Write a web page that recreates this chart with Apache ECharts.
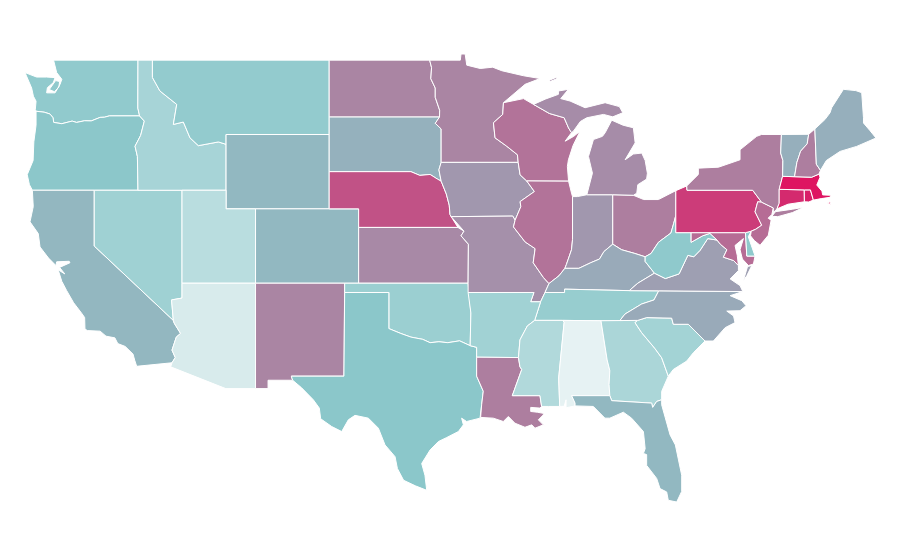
<!DOCTYPE html>
<html><head><meta charset="utf-8">
<style>html,body{margin:0;padding:0;background:#fff}#c{width:900px;height:560px}</style>
<script src="https://cdn.jsdelivr.net/npm/echarts@6/dist/echarts.min.js"></script>
</head><body><div id="c"></div>
<script>
const stateNames=["Alabama","Arizona","Utah","Mississippi","Georgia","Idaho","South Carolina","Arkansas","Nevada","Oklahoma","Tennessee","Montana","Washington","West Virginia","Delaware","Oregon","Texas","California","Florida","Wyoming","Colorado","South Dakota","Maine","Vermont","Kentucky","North Carolina","Virginia","Iowa","Indiana","Missouri","Michigan","Kansas","North Dakota","Minnesota","New Mexico","Ohio","New York","New Hampshire","Louisiana","Illinois","Wisconsin","Maryland","New Jersey","Nebraska","Pennsylvania","Connecticut","Rhode Island","Massachusetts"];
const stateValues=[5,12,27,31,34,36,38,39,40,42,44,46,47,48,48,49.5,50,54.5,54,54,54,56,56.5,56.5,58,58,61,63,63,65,66,67,68,68,68,70,70,70,70,73,73,75,75,82,88,93,96,99];
const colorStops=["#f0f7f7","#8bc7ca","#e0105f"];

// Shared boundary arcs, flat lon,lat lists
const columbia=[-116.92,46,-118.98,46,-119.3,45.93,-119.6,45.92,-120.2,45.73,-120.65,45.74,-121.2,45.65,-121.5,45.72,-122.2,45.58,-122.75,45.65,-122.8,45.9,-123,46.1,-123.4,46.2,-123.95,46.25];
const snakeSouth=[-116.92,46,-116.6,45.72,-116.85,44.95,-117.23,44.37,-117.07,43.82,-117.03,42];
const colorado=[-114.72,32.72,-114.5,33,-114.72,33.4,-114.43,34.1,-114.14,34.3,-114.57,34.85,-114.63,35];
const idahoMontana=[-116.05,49,-116.05,48.07,-115.54,47.34,-114.4,46.62,-114.63,45.54,-113.95,45.67,-113.5,44.82,-112.93,44.4,-111.57,44.6,-111.05,44.47];
const redNorth=[-97.23,49,-97.1,48.6,-97.15,48,-96.85,47.5,-96.85,47,-96.55,46.3,-96.56,45.94];
const sdMn=[-96.56,45.94,-96.85,45.6,-96.45,45.3,-96.45,43.5];
const sdIa=[-96.45,43.5,-96.6,43.1,-96.45,42.49];
const sdNe=[-96.45,42.49,-96.7,42.6,-97.2,42.85,-97.9,42.8,-98.5,43,-104.05,43];
const neIa=[-95.77,40.58,-95.85,40.7,-95.9,41.2,-96.1,41.8,-96.45,42.49];
const moKs=[-95.31,40,-94.9,39.8,-95.1,39.55,-94.6,39.1,-94.62,37];
const redRiver=[-100,34.56,-99.2,34.3,-98.5,34.1,-97.7,33.98,-97.2,33.8,-96.6,33.85,-96,33.8,-95.2,33.9,-94.48,33.64];
const sabine=[-94.04,33.02,-94.04,32,-93.59,31.19,-93.7,30.46,-93.81,29.74];
const mnWi=[-92.22,46.71,-92.27,46.08,-92.9,45.63,-92.79,44.82,-92,44.37,-91.27,43.91,-91.22,43.5];
const iaWi=[-91.22,43.5,-91.09,42.83,-90.64,42.5];
const iaIl=[-90.64,42.5,-90.12,41.93,-91.09,41.39,-91.04,41.12,-91.43,40.39];
const moIl=[-91.43,40.39,-91.54,40.03,-90.75,39.22,-90.07,38.86,-90.2,38.1,-89.5,37.3,-89.13,36.98];
const moKy=[-89.13,36.98,-89.4,36.5];
const tnRiver=[-89.4,36.5,-89.7,36,-90.1,35];
const arMs=[-90.1,35,-90.6,34.7,-91.1,33.95,-91.2,33];
const laMs=[-91.2,33,-91.1,32.5,-90.98,32.36,-91.62,30.95,-89.74,30.95,-89.63,30.37];
const ohioW=[-89.13,36.98,-88.45,37.4,-88.05,37.8];
const ohioIn=[-88.05,37.8,-87.1,37.8,-86.3,38.1,-85.7,38.3,-85.4,38.7,-84.8,39.1];
const ohioOh=[-84.8,39.1,-84.2,38.8,-83.3,38.6,-82.6,38.42];
const ohioWv=[-82.6,38.42,-82.2,38.6,-81.7,39.2,-80.85,39.7,-80.67,40.2,-80.52,40.64];
const wabash=[-88.05,37.8,-87.95,38,-87.6,38.8,-87.53,39.35,-87.53,41.66];
const wiUp=[-90.18,46.62,-89.1,46.13,-88.1,45.9,-87.8,45.35,-87.6,45.1];
const tnNc=[-81.68,36.59,-82,36.1,-82.84,35.88,-83.97,35.34,-84.32,34.99];
const scGa=[-83.1,35,-83.29,34.88,-82.84,34.34,-81.95,33.5,-81.48,32.99,-81.03,32];
const ncSc=[-83.1,35,-82.5,35.15,-80.8,35.12,-80.69,34.79,-79.67,34.79,-78.54,33.89];
const alGa=[-85.6,34.98,-85.18,32.87,-85,32.3,-85.05,31.55,-85,30.95];
const alMs=[-88.2,35,-88.1,34.9,-88.47,31.9,-88.4,30.37];
const flAl=[-85,30.95,-87.59,30.95,-87.36,30.55,-87.36,30.4];
const flGa=[-85,30.95,-84.87,30.68,-82.16,30.55,-82.09,30.32,-81.82,30.64,-81.48,30.73];
const kyVa=[-83.68,36.6,-83.1,37,-81.97,37.54];
const kyWv=[-81.97,37.54,-82.6,38.17,-82.6,38.42];
const vaWv=[-81.97,37.54,-81.23,37.25,-80.3,37.5,-79.7,38.5,-79.3,38.42,-78.87,38.77,-78.35,39.4,-77.72,39.32];
const mdVa=[-77.72,39.32,-77.5,39.1,-77.05,38.8,-77.29,38.4,-76.6,38.22,-76.27,37.95];
const mdWv=[-77.72,39.32,-78.2,39.68,-78.7,39.55,-79.48,39.2,-79.48,39.72];
const delaware=[-75.4,39.8,-75.1,39.9,-74.69,40.12,-75.14,40.84,-74.96,41.38,-74.7,41.36];
const nyNe=[-73.35,45,-73.4,44,-73.25,43.6,-73.27,42.75];
const vtNh=[-71.5,45.01,-71.6,44.5,-72.05,44.1,-72.3,43.5,-72.46,42.73];
const nhMe=[-71.08,45.3,-70.98,43.4,-70.7,43.07];

const R=a=>{const o=[];for(let i=a.length-2;i>=0;i-=2)o.push(a[i],a[i+1]);return o;};
const ring=(...parts)=>{const f=parts.flat(),r=[];for(let i=0;i<f.length;i+=2)r.push([f[i],f[i+1]]);r.push(r[0]);return r;};

const shapes={
"Washington":[ring([-122.76,49,-117.03,49,-117.04,46.42],columbia,[-124,46.34,-123.95,46.79,-124.13,47.06,-124.25,47.5,-124.7,48.33,-123.91,48.09,-123.23,48.09,-122.66,48.06,-122.78,47.79,-123.18,47.52,-123.23,47.24,-122.66,47.24,-122.32,47.7,-122.2,47.97,-122.55,48.33]),ring([-123.05,47.42,-122.62,47.9,-122.35,47.85,-122.4,47.55,-122.7,47.3])],
"Oregon":[ring(columbia,[-123.95,45.5,-124.1,44.6,-124.15,43.6,-124.55,42.84,-124.4,42.3,-124.2,42],R(snakeSouth))],
"California":[ring([-124.2,42,-120,42,-120,39,-114.63,35],R(colorado),[-117.12,32.53,-117.25,32.85,-117.37,33.19,-117.9,33.6,-118.4,33.75,-118.6,34.06,-119.2,34.15,-119.6,34.42,-120.47,34.45,-120.63,34.54,-120.65,35.15,-120.83,35.36,-121.4,35.95,-121.87,36.6,-122.2,37.1,-122.45,37.72,-122,37.5,-122.35,37.85,-121.65,38.1,-121.7,38.18,-122.55,38.15,-122.6,37.95,-123.1,38.35,-123.68,38.95,-123.8,39.67,-124.36,40.3,-124.14,41.12])],
"Nevada":[ring([-120,42,-114.04,42,-114.04,36.2,-114.75,36.1,-114.63,35,-120,39])],
"Idaho":[ring([-117.03,49],idahoMontana,[-111.05,42],R(snakeSouth),[-117.04,46.42])],
"Montana":[ring(idahoMontana,[-111.05,45,-104.05,45,-104.05,49])],
"Wyoming":[ring([-111.05,45,-104.05,45,-104.05,41,-111.05,41])],
"Utah":[ring([-114.04,42,-111.05,42,-111.05,41,-109.05,41,-109.05,37,-114.04,37])],
"Colorado":[ring([-109.05,41,-102.05,41,-102.05,37,-109.05,37])],
"Arizona":[ring([-114.04,37,-109.05,37,-109.05,31.33,-111.07,31.33,-114.81,32.5],colorado,[-114.75,36.1,-114.04,36.2])],
"New Mexico":[ring([-109.05,37,-103,37,-103.05,32,-106.62,32,-106.53,31.78,-108.2,31.78,-108.2,31.33,-109.05,31.33])],
"North Dakota":[ring([-104.05,49],redNorth,[-104.05,45.94])],
"South Dakota":[ring([-104.05,45.94],sdMn,sdIa,sdNe)],
"Nebraska":[ring([-104.05,43],R(sdNe).slice(2),R(neIa),[-95.31,40,-102.05,40,-102.05,41,-104.05,41])],
"Kansas":[ring([-102.05,40],moKs,[-102.05,37])],
"Oklahoma":[ring([-103,37,-94.62,37,-94.43,35.4],R(redRiver),[-100,36.5,-103,36.5])],
"Texas":[ring([-106.62,32,-103.05,32,-103,36.5,-100,36.5],redRiver,[-94.04,33.55],sabine,[-94.72,29.56,-95.06,29.74,-94.94,29.38,-95.28,29.02,-96.07,28.7,-96.64,28.48,-97.2,28.03,-97.77,27.3,-97.55,26.67,-97.43,25.86,-98.2,26.1,-99,26.4,-99.42,27.03,-99.58,27.67,-100.26,28.3,-100.71,29.2,-101.39,29.74,-102.3,29.89,-102.75,29.65,-103.2,29.02,-103.88,29.29,-104.63,29.71,-104.72,30.28,-105.13,30.73,-105.92,31.37,-106.53,31.78])],
"Minnesota":[ring([-97.23,49,-95.15,49,-95.1,49.33,-94.82,49.33,-94.71,48.73,-93.8,48.55,-92.95,48.62,-92.33,48.43,-90.86,48.16,-89.73,48.01,-90.75,47.7],mnWi,R(sdMn),R(redNorth).slice(2))],
"Iowa":[ring([-96.45,43.5],iaWi,iaIl.slice(2),[-91.59,40.61],neIa,R(sdIa).slice(2))],
"Missouri":[ring(neIa.slice(0,2),moKs.slice(2),[-94.62,36.5,-90.15,36.5,-90.37,36,-89.7,36,-89.4,36.5],R(moKy).slice(2),R(moIl).slice(2),[-91.59,40.61])],
"Wisconsin":[ring(mnWi,iaWi.slice(2),[-87.8,42.49,-87.88,43.28,-87.81,43.64,-87.5,44.4,-87.02,45.18,-87.45,44.9,-88.03,44.64],R(wiUp),[-90.86,46.93])],
"Illinois":[ring(iaIl,moIl,ohioW,wabash,[-87.6,41.85,-87.8,42.49])],
"Indiana":[ring(wabash.slice(0,2),ohioIn,[-84.8,41.76,-86.56,41.76,-87.2,41.66],R(wabash).slice(0,-2))],
"Ohio":[ring([-84.8,39.1],ohioOh,ohioWv,[-80.52,41.98,-81.7,41.5,-82.7,41.5,-83.4,41.73,-84.8,41.76])],
"Michigan":[ring([-86.56,41.76,-84.8,41.76,-83.4,41.73,-83.17,41.84,-83.1,42.3,-82.5,42.6,-82.45,42.92,-82.6,43.6,-82.83,44,-83.4,43.95,-83.96,43.64,-83.28,44.55,-83.4,45.36,-84.1,45.5,-84.87,45.77,-85.32,45.09,-85.5,44.9,-86.11,44.73,-86.45,43.82,-86.18,42.92]),ring(wiUp,[-87.47,45.18,-87,45.7,-86.56,45.9,-85.43,46.08,-84.8,45.95,-84.12,46.17,-84.35,46.5,-85.32,46.71,-86.68,46.44,-87.7,46.8,-88.33,46.93,-87.81,47.43,-88.49,47.34,-88.49,47.16,-89.39,46.9]),ring([-89.1,47.92,-88.65,48.07,-88.6,48,-89.05,47.85])],
"Kentucky":[ring(moKy,[-88.07,36.5,-88.07,36.68,-83.68,36.6],kyVa.slice(2),kyWv.slice(2),R(ohioOh).slice(2),R(ohioIn).slice(2),R(ohioW).slice(2))],
"Tennessee":[ring(tnRiver,[-88.2,35,-85.6,34.98,-84.32,34.99],R(tnNc).slice(2),[-83.68,36.6,-88.07,36.68,-88.07,36.5])],
"Arkansas":[ring([-94.62,36.5,-90.15,36.5,-90.37,36,-89.7,36,-90.1,35],arMs.slice(2),[-94.04,33.02,-94.04,33.55,-94.48,33.64,-94.43,35.4])],
"Louisiana":[ring([-94.04,33.02],laMs,[-89.74,30.28,-90.37,30.32,-90.37,30.1,-89.92,30.06,-89.51,30,-89.51,29.92,-89.85,29.65,-89.13,29.07,-89.51,29.38,-90.08,29.2,-90.3,29.38,-90.76,29.25,-91.44,29.47,-91.89,29.83,-92.23,29.56,-92.91,29.74,-93.77,29.78],R(sabine).slice(0,-2))],
"Mississippi":[ring([-90.1,35],alMs,[-89.17,30.37],R(laMs),R(arMs).slice(2,-2))],
"Alabama":[ring(alMs.slice(0,2),alGa,flAl,[-87.97,30.3,-87.97,30.73,-88.1,30.38],R(alMs).slice(0,-2))],
"Georgia":[ring(alGa.slice(0,2),scGa,[-81.48,31.18],R(flGa),R(alGa).slice(2,-2))],
"Florida":[ring(R(flAl),flGa.slice(2),[-81.48,30.46,-80.91,28.84,-80.55,28.3,-80.12,26.67,-80.12,25.8,-80.46,25.23,-81.03,25.32,-81.14,25.77,-81.59,25.95,-81.82,26.5,-82.5,27.2,-82.5,27.78,-82.72,27.84,-82.6,28.1,-82.72,29.02,-83.52,29.74,-84.08,30.06,-85,29.74,-85.33,29.74,-86.12,30.37])],
"South Carolina":[ring(ncSc,[-79.33,33.26,-79.78,32.81,-80.69,32.36],R(scGa).slice(0,-2))],
"North Carolina":[ring(tnNc,ncSc,[-77.97,33.89,-77.17,34.61,-76.5,34.88,-76.6,35.24,-77.06,35.5,-76.16,35.52,-75.75,35.79,-76.04,36.06,-76.83,36.33,-75.97,36.55])],
"Virginia":[ring([-83.68,36.6,-81.68,36.59,-75.97,36.55,-76.16,36.87,-76.83,37.23,-76.27,37.68],R(mdVa),R(vaWv).slice(2),R(kyVa).slice(2,-2)),ring([-75.93,37.15,-75.65,37.9,-75.36,37.95,-75.7,37.4])],
"West Virginia":[ring(kyVa.slice(4),vaWv.slice(2),mdWv.slice(2),[-80.52,39.72,-80.52,40.64],R(ohioWv).slice(2),R(kyWv).slice(2,-2))],
"Maryland":[ring([-79.48,39.72,-75.79,39.72,-75.7,38.46,-75.14,38.46,-75.25,38.03,-75.59,37.95,-76,38.3,-76.16,38.8,-75.93,39.4,-76.5,39.03,-76.35,38.5],R(mdVa),mdWv.slice(2,-2))],
"Delaware":[ring([-75.79,39.72,-75.4,39.8,-75.6,39.5,-75.4,39.05,-75.14,38.46,-75.7,38.46])],
"Pennsylvania":[ring([-80.52,41.98,-79.78,42.23,-79.76,42,-75.3,42],R(delaware),[-75.79,39.72,-80.52,39.72])],
"New Jersey":[ring(delaware,[-73.9,41.05,-74,40.7,-74.25,40.5,-74.05,40.39,-74.24,39.58,-74.8,39.04,-75.2,39.3,-75.45,39.55])],
"New York":[ring([-79.78,42.23,-78.99,42.85,-78.99,43.19,-77.63,43.24,-76.16,43.64,-76.16,44.18,-75.03,44.9,-74.7,45],nyNe,[-73.5,42.05,-73.5,41.3,-73.65,41,-73.9,40.8,-73.9,41.05,-74.7,41.36,-75.3,42,-79.76,42]),ring([-74,40.6,-73.75,40.85,-72.6,40.98,-72.09,41.05,-71.87,41.07,-72.6,40.8,-73.6,40.58])],
"Connecticut":[ring([-73.5,42.05,-71.8,42.02,-71.79,41.38,-72.9,41.25,-73.65,41,-73.5,41.3])],
"Rhode Island":[ring([-71.8,42.02,-71.38,42.02,-71.18,41.47,-71.5,41.37,-71.79,41.38])],
"Massachusetts":[ring([-73.5,42.05,-73.27,42.75,-72.46,42.73,-71.3,42.7,-70.8,42.87,-70.73,42.7,-70.95,42.28,-70.6,41.95,-70.55,41.75,-70,41.73,-70.05,41.62,-70.65,41.55,-71.18,41.47,-71.38,42.02,-71.8,42.02]),ring([-70.25,41.3,-70,41.25,-70.05,41.38])],
"Vermont":[ring(nyNe,R(vtNh))],
"New Hampshire":[ring(nhMe,[-70.8,42.87,-71.3,42.7],R(vtNh))],
"Maine":[ring(nhMe,[-70.3,43.6,-69.37,44.09,-68.24,44.36,-66.93,44.81,-67.33,45.2,-67.78,45.62,-67.78,45.9,-67.9,47.25,-68.3,47.36,-69.14,47.43,-69.94,46.44,-70.05,46.17,-70.4,45.8])]
};

const usa={type:"FeatureCollection",features:Object.keys(shapes).map(n=>({type:"Feature",properties:{name:n},geometry:{type:"MultiPolygon",coordinates:shapes[n].map(r=>[r])}}))};
echarts.registerMap("USA",usa);
const chart=echarts.init(document.getElementById("c"),null,{renderer:"canvas"});
chart.setOption({
  animation:false,
  visualMap:{show:false,min:0,max:100,inRange:{color:colorStops}},
  series:[{type:"map",map:"USA",silent:true,aspectScale:0.7975,left:25,top:54,width:851,height:448,
    label:{show:false},
    itemStyle:{borderColor:"#fff",borderWidth:1},
    data:stateNames.map((n,i)=>({name:n,value:stateValues[i]}))}]
});
</script></body></html>
